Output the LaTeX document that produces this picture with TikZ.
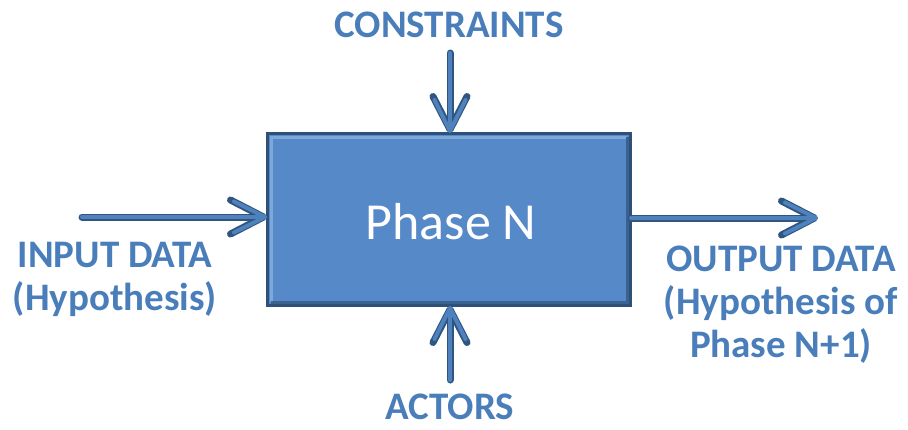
\documentclass[tikz,border=0pt]{standalone}
\usepackage{fontspec}
\setmainfont{Carlito}
\usetikzlibrary{arrows.meta}
\definecolor{boxfill}{HTML}{5589C8}
\definecolor{boxedge}{HTML}{2F5078}
\definecolor{bevel}{HTML}{7FA8DA}
\definecolor{arrlight}{HTML}{4F81BD}
\definecolor{arrdark}{HTML}{2F5580}
\definecolor{labelblue}{HTML}{4A7EBB}
\tikzset{
  phasebox/.style={draw=boxedge, line width=2pt, fill=boxfill,
    minimum width=362pt, minimum height=171pt, inner sep=0pt},
  flowlabel/.style={text=labelblue, font=\bfseries\fontsize{39}{43}\selectfont,
    inner sep=0pt},
  multiline/.style={align=center},
  flowout/.style={line width=7pt, color=arrdark, line cap=round, line join=round,
    -{Straight Barb[length=33pt, width=34pt, round]}},
  flowin/.style={line width=4pt, color=arrlight, line cap=round, line join=round,
    -{Straight Barb[length=31pt, width=31pt, round]}},
}
\begin{document}
\begin{tikzpicture}[x=1pt, y=-1pt]
  \useasboundingbox (0,0) rectangle (908,429);
  % process box with a light bevel inside its border
  \node[phasebox] (box) at (449,219.5) {};
  \draw[bevel, line width=3pt] ([shift={(4pt,4pt)}]box.south west) -- ([shift={(4pt,-4pt)}]box.north west) -- ([shift={(-4pt,-4pt)}]box.north east);
  \draw[boxedge!70!boxfill, line width=3pt] ([shift={(-4pt,-4pt)}]box.north east) -- ([shift={(-4pt,4pt)}]box.south east) -- ([shift={(4pt,4pt)}]box.south west);
  \draw[boxedge, line width=2pt] (box.south west) rectangle (box.north east);
  \node[text=white, font=\fontsize{52}{56}\selectfont] (title) at (451,222) {Phase N};

  % free ends of the four flows
  \coordinate (inStart) at (82,217);
  \coordinate (outEnd) at (818,218);
  \coordinate (topStart) at (450,53);
  \coordinate (botStart) at (450,380);

  \foreach \s in {flowout, flowin} {
    \draw[\s] (inStart) -- (box.west |- inStart);
    \draw[\s] (box.east |- outEnd) -- (outEnd);
    \draw[\s] (topStart) -- (box.north -| topStart);
    \draw[\s] (botStart) -- (box.south -| botStart);
  }

  % labels
  \node[flowlabel] (constraints) at (449,25) {CONSTRAINTS};
  \node[flowlabel, multiline] (input) at (115,279) {INPUT DATA\\(Hypothesis)};
  \node[flowlabel, multiline] (output) at (781,305) {OUTPUT DATA\\(Hypothesis of\\Phase N+1)};
  \node[flowlabel] (actors) at (450,407) {ACTORS};
\end{tikzpicture}
\end{document}
